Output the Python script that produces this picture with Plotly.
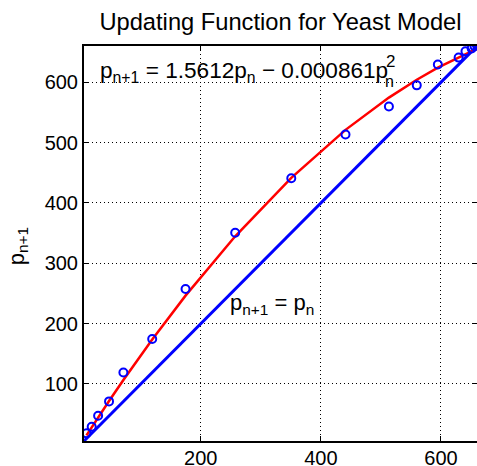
import plotly.graph_objects as go

# Yeast population data (p_n -> p_{n+1})
p_n = [9.6, 18.3, 29.0, 47.2, 71.1, 119.1, 174.6, 257.3, 350.7, 441.0,
       513.3, 559.7, 594.8, 629.4, 640.8, 651.1, 655.9, 659.6]
p_next = [18.3, 29.0, 47.2, 71.1, 119.1, 174.6, 257.3, 350.7, 441.0, 513.3,
          559.7, 594.8, 629.4, 640.8, 651.1, 655.9, 659.6, 661.8]
# fitted updating function values at p_n (1.5612 p - 0.000861 p^2)
fit_vals = [14.91, 28.28, 44.55, 71.77, 106.65, 173.73, 246.34, 344.70, 441.62, 521.04,
            574.51, 604.08, 623.99, 641.54, 646.87, 651.50, 653.59, 655.17]
# identity line endpoints
ident = [0, 700]

x_ticks = [200, 400, 600]
y_ticks = [100, 200, 300, 400, 500, 600]
ax_range = [5.5, 660]

FONT = "Liberation Sans, Arial, sans-serif"

fig = go.Figure()
fig.add_trace(go.Scatter(x=ident, y=ident, mode="lines",
                         line=dict(color="#0000ff", width=3), showlegend=False))
fig.add_trace(go.Scatter(x=p_n, y=fit_vals, mode="lines",
                         line=dict(color="#ff0000", width=2.5), showlegend=False))
fig.add_trace(go.Scatter(x=p_n, y=p_next, mode="markers",
                         marker=dict(symbol="circle-open", size=8, color="#0000ff",
                                     line=dict(width=2, color="#0000ff")),
                         showlegend=False))

axis_common = dict(
    range=ax_range, showline=True, linecolor="black", linewidth=2, mirror="ticks",
    ticks="inside", ticklen=5, tickcolor="black", tickwidth=1,
    showgrid=True, gridcolor="black", gridwidth=1, griddash="1px,3px",
    zeroline=False, automargin=False,
    tickfont=dict(family=FONT, size=20, color="black"),
)
fig.update_xaxes(tickvals=x_ticks, ticklabelstandoff=-2, **axis_common)
fig.update_yaxes(tickvals=y_ticks, **axis_common)

ann_font = dict(family=FONT, size=22, color="black")
fig.update_layout(
    template="none",
    width=477, height=466,
    margin=dict(l=84, r=0, t=46, b=25, autoexpand=False),
    paper_bgcolor="white", plot_bgcolor="white",
    font=dict(family=FONT, color="black"),
    title=dict(text="Updating Function for Yeast Model", x=0.588, xanchor="center",
               y=0.9524, yanchor="middle", font=dict(family=FONT, size=23.7, color="black")),
    annotations=[
        dict(x=0.0356, y=0.934, xref="paper", yref="paper", xanchor="left", yanchor="middle",
             text="p<sub>n+1</sub> = 1.5612p<sub>n</sub> − 0.000861p",
             showarrow=False, font=dict(family=FONT, size=22.6, color="black")),
        dict(x=0.781, y=0.96, xref="paper", yref="paper", xanchor="center", yanchor="middle",
             text="2", showarrow=False, font=dict(family=FONT, size=17, color="black")),
        dict(x=0.7786, y=0.909, xref="paper", yref="paper", xanchor="center", yanchor="middle",
             text="n", showarrow=False, font=dict(family=FONT, size=16, color="black")),
        dict(x=0.3665, y=0.347, xref="paper", yref="paper", xanchor="left", yanchor="middle",
             text="p<sub>n+1</sub> = p<sub>n</sub>",
             showarrow=False, font=ann_font),
        dict(x=-0.168, y=0.493, xref="paper", yref="paper", xanchor="center", yanchor="middle",
             text="p<sub>n+1</sub>", textangle=-90,
             showarrow=False, font=ann_font),
    ],
)

# remove the default 8px page margin so the figure fills the window
fig.write_html("out.html", config={"displayModeBar": False, "staticPlot": True},
               post_script="document.body.style.margin='0';document.documentElement.style.overflow='hidden';")
